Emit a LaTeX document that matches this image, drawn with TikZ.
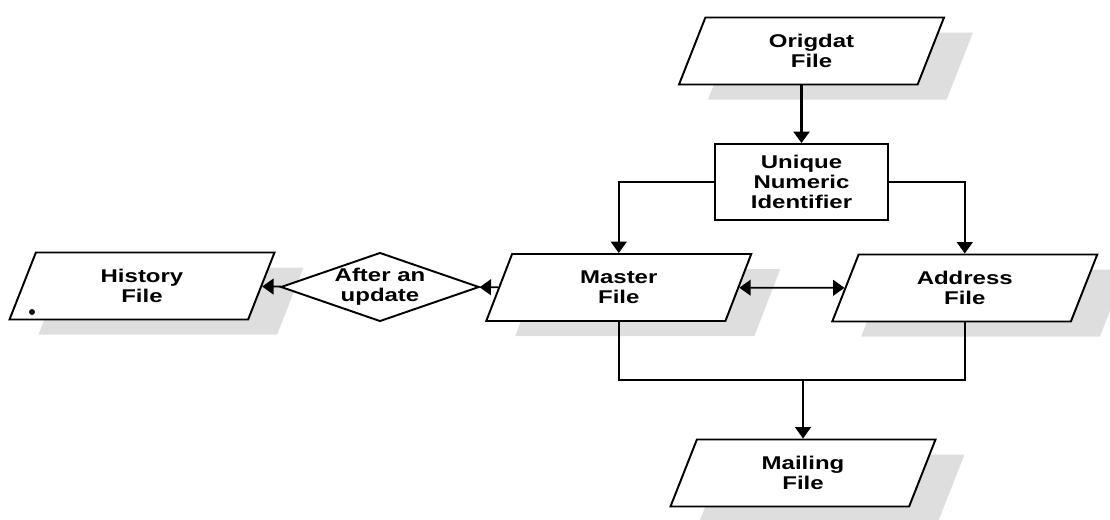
\documentclass[tikz,border=0pt]{standalone}
\usepackage{fontspec}
\setmainfont{Liberation Sans}[FakeStretch=1.3]
\usetikzlibrary{shapes.geometric,arrows.meta,shadows}

\tikzset{
  arquivo/.style={draw, line width=1.1pt, fill=white, trapezium, trapezium left angle=52,
    trapezium right angle=128, trapezium stretches body, minimum width=5.3cm,
    minimum height=1.34cm, inner sep=0pt, align=center,
    drop shadow={shadow xshift=0.58cm, shadow yshift=-0.3cm, fill=black!13, opacity=1}},
  processo/.style={draw, line width=1.1pt, fill=white, rectangle, minimum width=3.46cm,
    minimum height=1.52cm, inner sep=0pt, align=center},
  decisao/.style={draw, line width=1.1pt, fill=white, diamond, shape aspect=2.88,
    inner sep=0pt, minimum width=3.74cm, minimum height=1.3cm, align=center},
  seta/.style={-{Triangle[length=6.5pt,width=9pt]}, line width=1pt},
  linha/.style={line width=1pt}
}

\begin{document}
\begin{tikzpicture}[font=\bfseries\fontsize{10.5}{11.5}\selectfont]
      \useasboundingbox (0,0) rectangle (22.2,-10.38);

      % Arquivos
      \node[arquivo] (orig) at (16.23,-1.02) {Origdat\\File};
      \node[arquivo] (master) at (12.375,-5.75) {Master\\File};
      \node[arquivo] (addr) at (19.295,-5.76) {Address\\File};
      \node[arquivo] (hist) at (2.84,-5.72) {History\\File};
      \node[arquivo] (mail) at (16.06,-9.46) {Mailing\\File};
      \node[fill, circle, inner sep=1.2pt] (ponto) at (0.64,-6.24) {};

      % Processo e decisao
      \node[processo] (uni) at (16.03,-3.64) {Unique\\Numeric\\Identifier};
      \node[decisao] (dec) at (7.6,-5.74) {After an\\update};

      % Setas
      \draw[seta, line width=1.6pt] (orig.south -| uni.north) -- (uni.north);
      \draw[seta] (uni.west) -| (master);
      \draw[seta] (uni.east) -| (addr);
      \draw[seta, {Triangle[length=6.5pt,width=9pt]}-{Triangle[length=6.5pt,width=9pt]}] (master) -- (addr);
      \draw[seta] (master) -- (dec);
      \draw[seta] (dec) -- (hist);

      \coordinate (junta) at (mail |- 0,-7.6);
      \draw[linha] (master |- master.south) |- (junta) -| (addr |- addr.south);
      \draw[seta] (junta) -- (mail);
    \end{tikzpicture}
\end{document}
